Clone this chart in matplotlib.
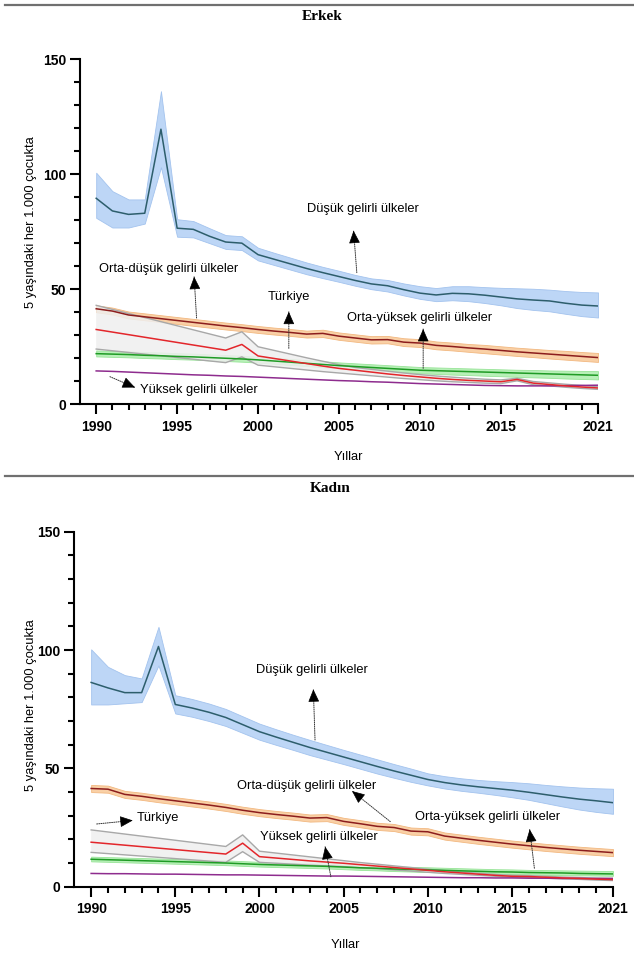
import matplotlib
matplotlib.use("Agg")
import numpy as np
import matplotlib.pyplot as plt
from matplotlib.lines import Line2D
from matplotlib.ticker import FixedLocator, MultipleLocator

years = list(range(1990, 2022))
tr_years = [1990] + list(range(1998, 2022))

# ---------------- Erkek ----------------
low_m = [89.5, 84.0, 82.5, 83.0, 119.5, 76.5, 76.0, 73.0, 70.5, 70.0, 65.0, 63.0, 61.0, 59.0, 57.2, 55.5,
         53.8, 52.3, 51.5, 49.8, 48.3, 47.5, 48.2, 48.0, 47.4, 46.6, 45.8, 45.3, 44.9, 43.9, 43.1, 42.7]
low_m_lo = [81.0, 76.8, 76.8, 78.5, 103.0, 72.8, 72.5, 70.0, 67.5, 67.0, 62.5, 60.5, 58.5, 56.5, 54.8, 53.2,
            51.5, 50.0, 49.0, 47.3, 45.8, 44.8, 45.2, 44.8, 44.0, 43.0, 41.8, 41.0, 40.4, 39.3, 38.3, 37.7]
low_m_hi = [100.6, 92.6, 89.0, 89.0, 136.0, 80.4, 79.6, 76.5, 73.5, 73.0, 68.0, 65.8, 63.7, 61.6, 59.7, 58.0,
            56.2, 54.7, 54.0, 52.5, 51.3, 50.5, 51.3, 51.3, 50.9, 50.6, 50.4, 50.2, 49.8, 49.2, 48.8, 48.6]

lm_m = [41.5, 40.5, 38.8, 38.0, 37.2, 36.4, 35.6, 34.8, 34.0, 33.3, 32.5, 31.8, 31.2, 30.5, 30.8, 29.6,
        28.8, 28.0, 28.1, 27.0, 26.6, 25.6, 25.1, 24.5, 24.0, 23.4, 22.8, 22.3, 21.8, 21.3, 20.8, 20.3]
lm_m_lo = [40.0, 39.0, 37.3, 36.5, 35.7, 34.9, 34.1, 33.3, 32.5, 31.8, 31.0, 30.3, 29.7, 29.0, 29.2, 28.0,
           27.2, 26.4, 26.5, 25.3, 24.9, 23.9, 23.4, 22.8, 22.2, 21.6, 21.0, 20.5, 19.9, 19.4, 18.9, 18.4]
lm_m_hi = [43.0, 42.0, 40.3, 39.5, 38.7, 37.9, 37.1, 36.3, 35.5, 34.8, 34.0, 33.3, 32.7, 32.0, 32.4, 31.2,
           30.4, 29.6, 29.7, 28.7, 28.3, 27.3, 26.8, 26.2, 25.8, 25.2, 24.6, 24.1, 23.6, 23.2, 22.7, 22.3]

tr_m = [32.5, 23.5, 26.0, 21.0, 19.9, 18.8, 17.7, 16.6, 15.6, 14.8, 14.0, 13.2, 12.5, 11.9, 11.3, 10.8,
        10.4, 10.1, 9.8, 10.8, 9.2, 8.6, 8.0, 7.5, 7.1]
tr_m_hi = [43.0, 28.8, 31.5, 25.0, 23.4, 21.8, 20.2, 18.7, 17.2, 16.0, 15.2, 14.4, 13.6, 12.9, 12.3, 11.8,
           11.3, 10.9, 10.6, 11.3, 9.9, 9.3, 8.7, 8.2, 7.7]
tr_m_lo = [24.0, 18.1, 20.6, 17.0, 16.3, 15.6, 14.9, 14.2, 13.6, 13.0, 12.4, 11.8, 11.2, 10.7, 10.2, 9.8,
           9.5, 9.2, 9.0, 10.2, 8.5, 8.0, 7.4, 6.9, 6.5]

um_m = [22.0, 21.8, 21.6, 21.3, 21.1, 20.8, 20.6, 20.3, 20.0, 19.7, 19.3, 18.8, 18.3, 17.8, 17.3, 16.8,
        16.4, 16.0, 15.6, 15.2, 14.8, 14.6, 14.4, 14.2, 14.0, 13.8, 13.6, 13.4, 13.2, 13.0, 12.8, 12.6]
um_m_lo = [20.8, 20.6, 20.4, 20.1, 19.9, 19.6, 19.4, 19.1, 18.8, 18.5, 18.1, 17.6, 17.1, 16.6, 16.1, 15.6,
           15.2, 14.7, 14.3, 13.9, 13.5, 13.2, 12.9, 12.7, 12.4, 12.2, 11.9, 11.7, 11.5, 11.2, 11.0, 10.8]
um_m_hi = [23.4, 23.2, 23.0, 22.7, 22.5, 22.2, 22.0, 21.7, 21.4, 21.1, 20.7, 20.2, 19.7, 19.2, 18.7, 18.2,
           17.8, 17.4, 17.0, 16.6, 16.2, 16.0, 15.8, 15.6, 15.4, 15.2, 15.0, 14.9, 14.7, 14.6, 14.5, 14.4]

hi_m = [14.5, 14.3, 14.0, 13.7, 13.4, 13.1, 12.8, 12.6, 12.3, 12.1, 11.8, 11.5, 11.2, 10.9, 10.6, 10.3,
        10.1, 9.8, 9.6, 9.3, 9.0, 8.8, 8.6, 8.4, 8.2, 8.1, 8.0, 8.0, 8.0, 8.1, 8.2, 8.3]

# ---------------- Kadın ----------------
low_f = [86.3, 84.0, 82.0, 82.0, 101.5, 77.0, 75.5, 73.7, 71.5, 68.5, 65.5, 63.2, 61.0, 58.8, 56.8, 54.8,
         52.8, 50.8, 48.9, 47.1, 45.3, 44.0, 43.0, 42.2, 41.5, 40.8, 39.9, 38.9, 37.9, 37.0, 36.3, 35.5]
low_f_lo = [77.0, 77.0, 77.5, 78.0, 93.5, 73.2, 71.8, 70.0, 67.9, 65.0, 62.1, 59.9, 57.8, 55.6, 53.7, 51.8,
            49.8, 47.8, 46.0, 44.3, 42.8, 41.5, 40.5, 39.7, 38.8, 37.8, 36.7, 35.3, 33.9, 32.6, 31.6, 30.8]
low_f_hi = [100.3, 92.9, 89.4, 88.0, 109.8, 80.9, 79.3, 77.4, 75.1, 72.0, 68.9, 66.5, 64.2, 62.0, 59.9, 57.8,
            55.8, 53.8, 51.8, 49.9, 47.9, 46.7, 45.8, 45.1, 44.6, 44.2, 43.7, 43.0, 42.4, 41.9, 41.6, 41.4]

lm_f = [41.5, 41.2, 39.0, 38.2, 37.2, 36.3, 35.4, 34.5, 33.5, 32.3, 31.3, 30.5, 29.8, 29.0, 29.2, 27.6,
        26.6, 25.5, 25.0, 23.5, 23.2, 21.4, 20.5, 19.6, 18.8, 18.0, 17.3, 16.6, 16.0, 15.4, 14.9, 14.4]
lm_f_lo = [40.0, 39.7, 37.5, 36.7, 35.7, 34.8, 33.9, 33.0, 32.0, 30.8, 29.8, 29.0, 28.3, 27.5, 27.7, 26.1,
           25.1, 24.0, 23.5, 22.0, 21.7, 19.9, 19.0, 18.1, 17.3, 16.5, 15.8, 15.1, 14.5, 13.9, 13.4, 12.9]
lm_f_hi = [43.0, 42.7, 40.5, 39.7, 38.7, 37.8, 36.9, 36.0, 35.0, 33.8, 32.8, 32.0, 31.3, 30.5, 30.7, 29.1,
           28.1, 27.0, 26.5, 25.0, 24.7, 22.9, 22.0, 21.1, 20.3, 19.5, 18.8, 18.1, 17.5, 16.9, 16.4, 15.9]

tr_f = [18.8, 13.8, 18.4, 12.7, 12.1, 11.5, 10.9, 10.4, 9.9, 9.3, 8.7, 8.1, 7.5, 6.9, 6.3, 5.8,
        5.3, 4.8, 4.4, 4.3, 4.0, 3.7, 3.5, 3.2, 3.0]
tr_f_hi = [24.0, 17.0, 21.9, 15.0, 14.2, 13.4, 12.6, 11.8, 11.0, 10.2, 9.5, 8.8, 8.1, 7.4, 6.8, 6.2,
           5.7, 5.2, 4.8, 4.7, 4.4, 4.1, 3.9, 3.6, 3.4]
tr_f_lo = [14.5, 10.3, 14.8, 10.3, 9.9, 9.5, 9.1, 8.8, 8.5, 8.0, 7.6, 7.1, 6.6, 6.1, 5.6, 5.2,
           4.8, 4.4, 4.0, 3.9, 3.6, 3.3, 3.1, 2.8, 2.6]

um_f = [11.6, 11.4, 11.2, 11.0, 10.8, 10.6, 10.4, 10.2, 10.0, 9.7, 9.4, 9.2, 9.0, 8.8, 8.6, 8.3,
        8.0, 7.8, 7.5, 7.3, 7.1, 6.9, 6.7, 6.5, 6.3, 6.2, 6.0, 5.9, 5.8, 5.6, 5.5, 5.4]
um_f_lo = [10.7, 10.5, 10.3, 10.1, 9.9, 9.7, 9.5, 9.3, 9.1, 8.8, 8.5, 8.3, 8.1, 7.9, 7.7, 7.4,
           7.1, 6.9, 6.6, 6.4, 6.2, 6.0, 5.8, 5.6, 5.4, 5.3, 5.1, 5.0, 4.9, 4.8, 4.7, 4.6]
um_f_hi = [12.7, 12.5, 12.3, 12.1, 11.9, 11.7, 11.5, 11.3, 11.1, 10.8, 10.5, 10.3, 10.1, 9.9, 9.7, 9.4,
           9.1, 8.9, 8.6, 8.4, 8.2, 8.0, 7.8, 7.6, 7.4, 7.3, 7.1, 7.0, 6.9, 6.8, 6.7, 6.6]

hi_f = [5.6, 5.5, 5.5, 5.4, 5.3, 5.3, 5.2, 5.1, 5.0, 5.0, 4.9, 4.8, 4.7, 4.6, 4.5, 4.5,
        4.4, 4.3, 4.2, 4.1, 4.0, 3.9, 3.8, 3.8, 3.7, 3.7, 3.6, 3.6, 3.5, 3.5, 3.5, 3.5]

major_years = [1990, 1995, 2000, 2005, 2010, 2015, 2021]
y_ticks = [0, 50, 100, 150]

label_low = "Düşük gelirli ülkeler"
label_lm = "Orta-düşük gelirli ülkeler"
label_um = "Orta-yüksek gelirli ülkeler"
label_hi = "Yüksek gelirli ülkeler"
label_tr = "Türkiye"

SANS = ["Liberation Sans", "DejaVu Sans"]
SERIF = ["Liberation Serif", "DejaVu Serif"]

W, H = 634, 955
fig = plt.figure(figsize=(W / 100, H / 100), dpi=100)


def px_axes(l, r, t, b):
    return [l / W, 1 - b / H, (r - l) / W, (b - t) / H]


ax1 = fig.add_axes(px_axes(80, 598, 59, 404.3))
ax2 = fig.add_axes(px_axes(74.3, 613, 531.7, 886.7))

C_LOW, C_LOW_B, C_LOW_E = "#2d5e6c", "#bdd6f6", "#a3c3ee"
C_LM, C_LM_B, C_LM_E = "#8c1d1d", "#f9d0a6", "#f2b880"
C_TR, C_TR_B, C_TR_E = "#e3262b", "#efefef", "#a8a8a8"
C_UM, C_UM_B, C_UM_E = "#1f9b25", "#b8f0b8", "#98e498"
C_HI = "#8e2c8e"


def draw(ax, low, low_lo, low_hi, lm, lm_lo, lm_hi, tr, tr_lo, tr_hi, um, um_lo, um_hi, hi):
    ax.fill_between(years, low_lo, low_hi, facecolor=C_LOW_B, edgecolor=C_LOW_E, lw=0.6, zorder=1)
    ax.fill_between(years, lm_lo, lm_hi, facecolor=C_LM_B, edgecolor=C_LM_E, lw=0.6, zorder=1)
    ax.fill_between(years, um_lo, um_hi, facecolor=C_UM_B, edgecolor=C_UM_E, lw=0.6, zorder=1)
    ax.fill_between(tr_years, tr_lo, tr_hi, facecolor=C_TR_B, edgecolor="none", alpha=0.85, zorder=1.5)
    ax.plot(tr_years, tr_lo, color=C_TR_E, lw=1.0, zorder=2)
    ax.plot(tr_years, tr_hi, color=C_TR_E, lw=1.0, zorder=2)
    ax.plot(years, low, color=C_LOW, lw=1.1, zorder=3)
    ax.plot(years, lm, color=C_LM, lw=1.1, zorder=3)
    ax.plot(years, um, color=C_UM, lw=1.1, zorder=3)
    ax.plot(years, hi, color=C_HI, lw=1.1, zorder=3)
    ax.plot(tr_years, tr, color=C_TR, lw=1.1, zorder=3.5)

    ax.set_xlim(1989, 2021)
    ax.set_ylim(0, 150)
    for s in ("top", "right"):
        ax.spines[s].set_visible(False)
    for s in ("left", "bottom"):
        ax.spines[s].set_linewidth(1.5)
    ax.xaxis.set_major_locator(FixedLocator(major_years))
    ax.xaxis.set_minor_locator(FixedLocator([y for y in range(1991, 2021) if y not in major_years]))
    ax.yaxis.set_major_locator(FixedLocator(y_ticks))
    ax.yaxis.set_minor_locator(MultipleLocator(10))
    ax.tick_params(which="major", length=7, width=1.5, direction="out", pad=3)
    ax.tick_params(which="minor", length=4.5, width=1.5, direction="out")
    ax.tick_params(axis="x", which="major", pad=4)
    for lab in ax.get_xticklabels() + ax.get_yticklabels():
        lab.set_fontfamily(SANS)
        lab.set_fontweight("bold")
        lab.set_fontsize(10)


HEAD_PX = 8.0


def arrow(ax, tail, tip):
    # dotted shaft
    ax.annotate("", xy=tip, xytext=tail,
                arrowprops=dict(arrowstyle="-", color="#333333", lw=0.7, ls=(0, (1, 1.2)),
                                shrinkA=0, shrinkB=0), zorder=5)
    # solid head: short arrow whose start sits at the head base
    t = ax.transData
    p_tail = np.array(t.transform(tail))
    p_tip = np.array(t.transform(tip))
    d = p_tail - p_tip
    d = d / np.hypot(*d)
    base = t.inverted().transform(p_tip + d * HEAD_PX)
    ax.annotate("", xy=tip, xytext=tuple(base),
                arrowprops=dict(arrowstyle="-|>,head_length=0.8,head_width=0.35",
                                color="black", lw=0.5, shrinkA=0, shrinkB=0,
                                mutation_scale=10), zorder=5.5)


def label(ax, x, y, s, ha="center"):
    ax.text(x, y, s, ha=ha, va="center", fontsize=9.3, family=SANS, zorder=6)


draw(ax1, low_m, low_m_lo, low_m_hi, lm_m, lm_m_lo, lm_m_hi, tr_m, tr_m_lo, tr_m_hi,
     um_m, um_m_lo, um_m_hi, hi_m)
draw(ax2, low_f, low_f_lo, low_f_hi, lm_f, lm_f_lo, lm_f_hi, tr_f, tr_f_lo, tr_f_hi,
     um_f, um_f_lo, um_f_hi, hi_f)

# Erkek annotations
label(ax1, 2006.5, 84.7, label_low)
arrow(ax1, (2006.1, 57.2), (2005.9, 75.4))
label(ax1, 1994.5, 58.6, label_lm)
arrow(ax1, (1996.2, 37.5), (1996.05, 55.4))
label(ax1, 2001.9, 46.7, label_tr)
arrow(ax1, (2001.9, 24.3), (2001.9, 40.2))
label(ax1, 2009.95, 37.4, label_um)
arrow(ax1, (2010.2, 15.6), (2010.2, 32.7))
label(ax1, 1992.7, 6.2, label_hi, ha="left")
arrow(ax1, (1990.85, 12.0), (1992.4, 7.3))

# Kadın annotations
label(ax2, 2003.1, 91.5, label_low)
arrow(ax2, (2003.3, 62.0), (2003.2, 83.4))
label(ax2, 2002.8, 42.5, label_lm)
arrow(ax2, (2007.77, 27.5), (2005.5, 40.4))
label(ax2, 2013.55, 29.6, label_um)
arrow(ax2, (2016.33, 7.8), (2016.05, 24.2))
label(ax2, 1992.7, 28.9, label_tr, ha="left")
arrow(ax2, (1990.33, 26.5), (1992.47, 28.0))
label(ax2, 2000.05, 21.1, label_hi, ha="left")
arrow(ax2, (2004.24, 4.2), (2003.9, 16.9))


def ftext(x, y, s, **kw):
    fig.text(x / W, 1 - y / H, s, **kw)


ftext(322, 17, "Erkek", ha="center", va="center", fontsize=11, fontweight="bold", family=SERIF)
ftext(330, 488, "Kadın", ha="center", va="center", fontsize=11, fontweight="bold", family=SERIF)
ftext(348, 457, "Yıllar", ha="center", va="center", fontsize=9.3, family=SANS)
ftext(345, 945, "Yıllar", ha="center", va="center", fontsize=9.3, family=SANS)
ftext(31, 222, "5 yaşındaki her 1.000 çocukta", ha="center", va="center", rotation=90,
      fontsize=9.3, family=SANS)
ftext(31, 705, "5 yaşındaki her 1.000 çocukta", ha="center", va="center", rotation=90,
      fontsize=9.3, family=SANS)

for yy in (5, 476):
    fig.add_artist(Line2D([0.008, 1.0], [1 - yy / H, 1 - yy / H], color="#707070", lw=1.6))

fig.savefig("out.png", dpi=100)
